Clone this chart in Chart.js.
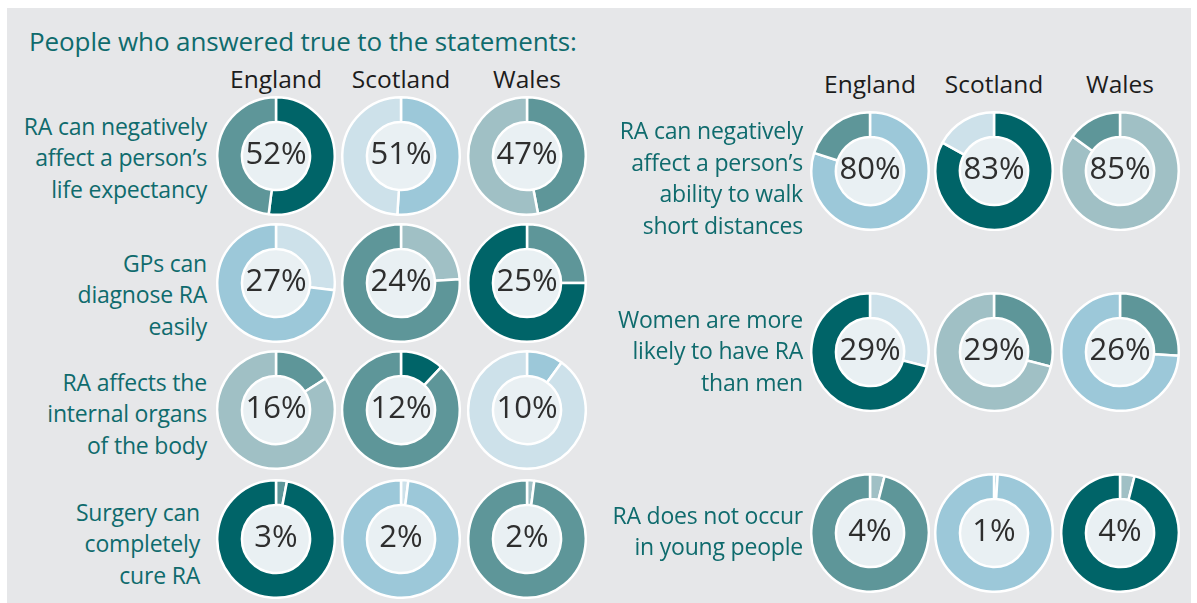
<!DOCTYPE html>
<html>
<head>
<meta charset="utf-8">
<script src="https://cdn.jsdelivr.net/npm/chart.js@4.4.1/dist/chart.umd.min.js"></script>
<style>
  body { margin: 0; background: #fff; font-family: "Open Sans", sans-serif; }
  #panel { position: absolute; left: 7px; top: 8px; width: 1184px; height: 595px; background: #e6e7e9; }
  .title { position: absolute; left: 29px; top: 24px; font-size: 26px; line-height: 34px; color: #0f6b6d; white-space: nowrap; letter-spacing: -0.1px; }
  .head { position: absolute; width: 140px; text-align: center; font-size: 24.5px; line-height: 30px; color: #1c1c1c; }
  .stmt { position: absolute; width: 260px; text-align: right; font-size: 23px; line-height: 31.5px; color: #0f6b6d; white-space: nowrap; letter-spacing: -0.2px; }
  .pct { position: absolute; width: 120px; text-align: center; font-size: 31px; line-height: 40px; color: #2e2e2e; pointer-events: none; }
  .donut { position: absolute; }
</style>
</head>
<body>
<div id="panel"></div>
<script>
// Countries (columns)
const countries = ['England', 'Scotland', 'Wales'];

// Left block
const leftStatements = [
    ['RA can negatively', 'affect a person\u2019s', 'life expectancy'],
    ['GPs can', 'diagnose RA', 'easily'],
    ['RA affects the', 'internal organs', 'of the body'],
    ['Surgery can', 'completely', 'cure RA']
];
const leftValues = [
    [52, 51, 47],
    [27, 24, 25],
    [16, 12, 10],
    [3, 2, 2]
];

// Right block
const rightStatements = [
    ['RA can negatively', 'affect a person\u2019s', 'ability to walk', 'short distances'],
    ['Women are more', 'likely to have RA', 'than men'],
    ['RA does not occur', 'in young people']
];
const rightValues = [
    [80, 83, 85],
    [29, 29, 26],
    [4, 1, 4]
];

// Palette
const DARK = '#006468', MID = '#5e9699', GREY = '#a0c0c5', BLUE = '#9cc8d9', PALE = '#cde1ea';
const CENTER_FILL = '#e9f0f3';

// [answered true, rest] colour pair per donut
const leftColors = [
    [[DARK, MID], [BLUE, PALE], [MID, GREY]],
    [[PALE, BLUE], [GREY, MID], [MID, DARK]],
    [[MID, GREY], [DARK, MID], [BLUE, PALE]],
    [[MID, DARK], [PALE, BLUE], [GREY, MID]]
];
const rightColors = [
    [[BLUE, MID], [DARK, PALE], [GREY, MID]],
    [[PALE, DARK], [MID, GREY], [MID, BLUE]],
    [[GREY, MID], [BLUE, BLUE], [GREY, DARK]]
];

// Layout
const SIZE = 120;
const left = { cols: [276, 401, 527], rows: [156, 283, 410, 539], headY: 79, labelRight: [207, 207, 207, 200], labelY: [158, 295, 414, 544] };
const right = { cols: [870, 994, 1120], rows: [171, 352, 533], headY: 84, labelRight: [803, 803, 803], labelY: [178, 351, 531] };
const LINE_H = 31.5;

// fill the hole of the doughnut
const centerFill = {
    id: 'centerFill',
    beforeDatasetsDraw(chart) {
        const arc = chart.getDatasetMeta(0).data[0];
        if (!arc) return;
        const ctx = chart.ctx;
        ctx.save();
        ctx.beginPath();
        ctx.arc(arc.x, arc.y, arc.innerRadius, 0, Math.PI * 2);
        ctx.fillStyle = CENTER_FILL;
        ctx.fill();
        ctx.restore();
    }
};

const body = document.body;

function addText(cls, text, x, y) {
    const el = document.createElement('div');
    el.className = cls;
    el.innerHTML = text;
    el.style.left = x + 'px';
    el.style.top = y + 'px';
    body.appendChild(el);
    return el;
}

function drawDonut(cx, cy, value, colors) {
    const wrap = document.createElement('div');
    wrap.className = 'donut';
    wrap.style.left = (cx - SIZE / 2) + 'px';
    wrap.style.top = (cy - SIZE / 2) + 'px';
    const canvas = document.createElement('canvas');
    canvas.width = SIZE;
    canvas.height = SIZE;
    wrap.appendChild(canvas);
    body.appendChild(wrap);

    new Chart(canvas.getContext('2d'), {
        type: 'doughnut',
        data: {
            labels: ['True', 'Other'],
            datasets: [{
                data: [value, 100 - value],
                backgroundColor: colors,
                borderColor: '#fff',
                borderWidth: 2.5
            }]
        },
        options: {
            responsive: false,
            animation: false,
            cutout: '58%',
            events: [],
            plugins: { legend: { display: false }, tooltip: { enabled: false } }
        },
        plugins: [centerFill]
    });

    addText('pct', value + '%', cx - 60, cy - 24);
}

function drawBlock(block, statements, values, colors) {
    block.cols.forEach((x, i) => addText('head', countries[i], x - 70, block.headY - 15));
    statements.forEach((lines, r) => {
        const h = lines.length * LINE_H;
        addText('stmt', lines.join('<br>'), block.labelRight[r] - 260, block.labelY[r] - h / 2);
        values[r].forEach((v, c) => drawDonut(block.cols[c], block.rows[r], v, colors[r][c]));
    });
}

addText('title', 'People who answered true to the statements:', 29, 24);
drawBlock(left, leftStatements, leftValues, leftColors);
drawBlock(right, rightStatements, rightValues, rightColors);
</script>
</body>
</html>
